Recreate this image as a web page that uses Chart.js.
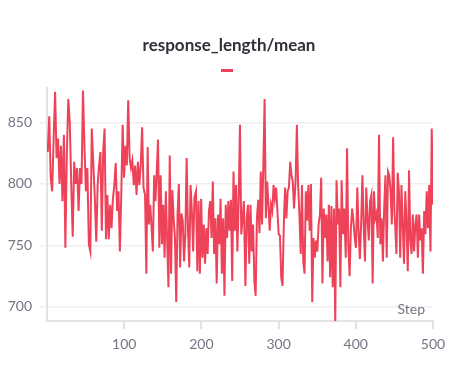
<!DOCTYPE html>
<html>
<head>
<meta charset="utf-8">
<script src="https://cdn.jsdelivr.net/npm/chart.js@4.4.1/dist/chart.umd.min.js"></script>
<style>
  body { margin: 0; background: #fff; }
</style>
</head>
<body>
<canvas id="chart" width="459" height="367"></canvas>
<script>
const title = 'response_length/mean';
const xTicks = [100, 200, 300, 400, 500];
const yTicks = [700, 750, 800, 850];

// values, one list per stretch of steps
const seg1 = [826, 855, 805, 794, 837, 875, 821, 837, 800, 831, 786, 840, 748, 826, 869, 850, 800, 757, 818, 800, 813, 778, 813, 800, 876, 831, 794, 813, 751, 745, 845];
const seg2 = [788, 753, 799, 815, 826, 762, 827, 845, 755, 791, 755, 783, 764, 788, 799, 817, 778, 794, 745, 791, 848, 805, 831, 815, 868, 821, 813, 819, 799, 815, 791, 818, 799, 815, 846, 797];
const seg3 = [791, 727, 830, 767, 783, 765, 745, 807, 786, 810, 836, 748, 807, 751, 783, 740, 794, 754, 716, 823, 727, 795, 772, 756, 704, 775, 800, 732, 776, 770, 737, 759, 821, 764, 732, 799, 778, 745, 789];
const seg4 = [794, 729, 786, 727, 788, 740, 767, 735, 764, 743, 778, 786, 756, 802, 743, 772, 719, 775, 751, 788, 727, 772, 709, 783, 756, 786, 762, 787, 721, 810, 762, 799, 745, 788, 848, 759, 772, 786];
const seg5 = [717, 772, 783, 735, 783, 745, 767, 721, 709, 772, 787, 760, 810, 767, 815, 869, 772, 802, 783, 762, 783, 778, 799, 788, 797, 778, 759, 758, 724, 717, 767, 797, 772, 794, 797, 818, 807, 802, 780];
const seg6 = [802, 848, 799, 775, 743, 799, 737, 727, 794, 770, 799, 762, 800, 704, 756, 740, 754, 745, 767, 775, 805, 719, 780, 756, 775, 737, 783, 724, 782, 716, 780, 686, 803, 767, 780, 716, 803, 759, 780];
const seg7 = [740, 829, 751, 725, 764, 780, 770, 756, 748, 797, 762, 739, 767, 807, 767, 737, 797, 772, 754, 786, 791, 719, 794, 772, 776, 756, 840, 751, 772, 737, 780, 807, 740, 810, 807, 794, 767, 838, 778];
const seg8 = [767, 743, 809, 794, 740, 799, 767, 735, 794, 767, 729, 811, 754, 743, 775, 745, 767, 775, 740, 775, 754, 764, 727, 778, 759, 794, 764, 799, 745, 845, 783];

// first and last step of each stretch
const segments = [
  [1, 58, seg1], [62, 125, seg2], [127, 191, seg3], [193, 255, seg4],
  [257, 320, seg5], [322, 385, seg6], [387, 450, seg7], [451, 500, seg8]
];

const points = segments.flatMap(([a, b, vals]) =>
  vals.map((v, i) => ({ x: a + i * (b - a) / (vals.length - 1), y: v }))
);

const red = '#ee4259';
const gray = '#737583';

const extras = {
  id: 'extras',
  afterDraw(chart) {
    const c = chart.ctx;
    const area = chart.chartArea;
    c.save();
    c.fillStyle = '#2f2f38';
    c.font = 'bold 17px Lato';
    c.textAlign = 'center';
    c.textBaseline = 'middle';
    c.fillText(title, 229, 46);
    c.fillStyle = red;
    c.fillRect(221, 69, 12, 3);
    c.fillStyle = gray;
    c.font = '14px Lato';
    c.textAlign = 'right';
    c.textBaseline = 'alphabetic';
    c.fillText('Step', area.right - 8, area.bottom - 7);
    c.restore();
  }
};

new Chart(document.getElementById('chart'), {
  type: 'line',
  data: {
    datasets: [{
      label: title,
      data: points,
      borderColor: red,
      borderWidth: 2,
      pointRadius: 0,
      tension: 0
    }]
  },
  options: {
    responsive: false,
    animation: false,
    devicePixelRatio: 1,
    layout: { padding: { top: 88, right: 26, left: 0, bottom: 0 } },
    plugins: { legend: { display: false }, tooltip: { enabled: false } },
    scales: {
      x: {
        type: 'linear',
        min: 0,
        max: 500,
        afterBuildTicks: s => { s.ticks = xTicks.map(v => ({ value: v })); },
        afterFit: s => { s.height = 46; },
        grid: { drawOnChartArea: false, color: '#e3e3e3', lineWidth: 2, tickLength: 8 },
        border: { color: '#e3e3e3', width: 2 },
        ticks: { color: gray, font: { family: 'Lato', size: 14 }, padding: 7, maxRotation: 0 }
      },
      y: {
        min: 688.5,
        max: 878,
        afterBuildTicks: s => { s.ticks = yTicks.map(v => ({ value: v })); },
        afterFit: s => { s.width = 47; },
        grid: { color: '#efefef', lineWidth: 1.5, tickLength: 7 },
        border: { color: '#e3e3e3', width: 2 },
        ticks: { color: gray, font: { family: 'Lato', size: 14 }, padding: 8 }
      }
    }
  },
  plugins: [extras]
});
</script>
</body>
</html>
